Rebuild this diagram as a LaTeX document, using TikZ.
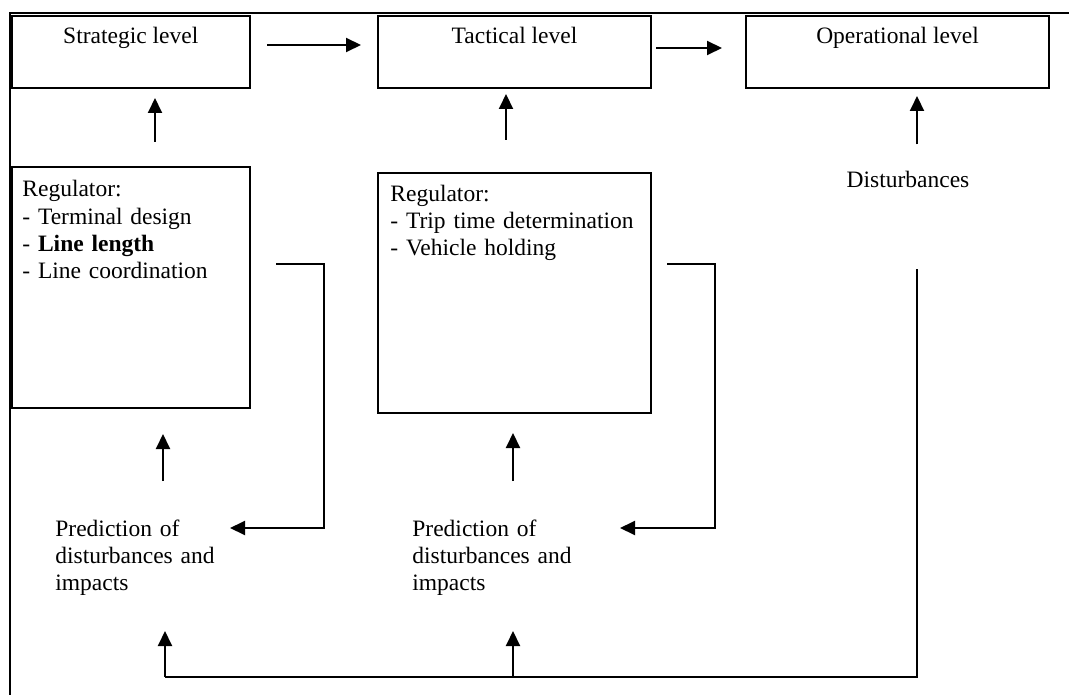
\documentclass[tikz,border=0pt]{standalone}
\usepackage{fontspec}
\setmainfont{Liberation Serif}
\usetikzlibrary{arrows.meta,calc,fit}
\tikzset{
  ln/.style={line width=1pt},
  box/.style={draw, line width=1pt, inner sep=0pt, rectangle},
  txt/.style={inner sep=0pt, font=\fontsize{11.75}{13.6}\selectfont},
  mtxt/.style={txt, text width=160pt, align=left},
  arr/.style={line width=1pt, -{Triangle[length=7.5pt,width=7pt]}},
}
\begin{document}
\begin{tikzpicture}[x=0.5pt,y=-0.5pt]
\useasboundingbox (0,0) rectangle (1069,695);
% frame
\draw[ln] (1069,13) -- (10,13) -- (10,695);
% level boxes
\node[box, fit={(11.5,16) (250,88)}] (strat) {};
\node[box, fit={(378,16) (651,88)}] (tact) {};
\node[box, fit={(746,16) (1049,88)}] (op) {};
\node[txt, anchor=base] (stratT) at (130.75,44) {Strategic level};
\node[txt, anchor=base] (tactT) at (514.5,44) {Tactical level};
\node[txt, anchor=base] (opT) at (897.5,44) {Operational level};
% regulator boxes
\node[box, fit={(11.5,167) (250,408)}] (reg1) {};
\node[box, fit={(378,173) (651,413)}] (reg2) {};
\node[mtxt, anchor=base west] (reg1T) at (22,197) {Regulator:\\- Terminal design\\- \textbf{Line length}\\- Line coordination};
\node[mtxt, anchor=base west] (reg2T) at (390,201) {Regulator:\\- Trip time determination\\- Vehicle holding};
% disturbances and predictions
\node[txt, anchor=base] (dist) at (908,188) {Disturbances};
\node[mtxt, anchor=base west] (pred1) at (55,536) {Prediction of\\disturbances and\\impacts};
\node[mtxt, anchor=base west] (pred2) at (412,536) {Prediction of\\disturbances and\\impacts};
% helper coordinates
\coordinate (b1s) at ($(reg1.east)+(25,-23.5)$);
\coordinate (b1c) at (324,264);
\coordinate (b1e) at (230,528);
\coordinate (b2s) at ($(reg2.east)+(15,-29)$);
\coordinate (b2c) at (715,264);
\coordinate (b2e) at (620,528);
\coordinate (dl) at (917,269);
\coordinate (bl) at (917,677);
\coordinate (bm) at (513,677);
\coordinate (bf) at (165,677);
% horizontal arrows between levels
\draw[arr] ($(strat.east)+(16,-7)$) -- ($(tact.west)+(-16,-7)$);
\draw[arr] ($(tact.east)+(4,-4)$) -- ($(op.west)+(-23,-4)$);
% upward arrows to levels
\draw[arr] ($(reg1.north)+(24.25,-24)$) -- ($(strat.south)+(24.25,9)$);
\draw[arr] ($(reg2.north)+(-8.5,-32)$) -- ($(tact.south)+(-8.5,5)$);
\draw[arr] ($(dist.north)+(9,-27)$) -- ($(op.south)+(19.5,7)$);
% predictions up to regulators
\draw[arr] ($(reg1.south)+(32.25,72)$) -- ($(reg1.south)+(32.25,25)$);
\draw[arr] ($(reg2.south)+(-1.5,67)$) -- ($(reg2.south)+(-1.5,19)$);
% feedback brackets
\draw[arr] (b1s) -- (b1c) -- (b1c |- b1e) -- (b1e);
\draw[arr] (b2s) -- (b2c) -- (b2c |- b2e) -- (b2e);
% disturbances feedback
\draw[ln] (dl) -- (bl) -- (bf);
\draw[arr] (bf) -- (165,631);
\draw[arr] (bm) -- (513,631);
\end{tikzpicture}
\end{document}
